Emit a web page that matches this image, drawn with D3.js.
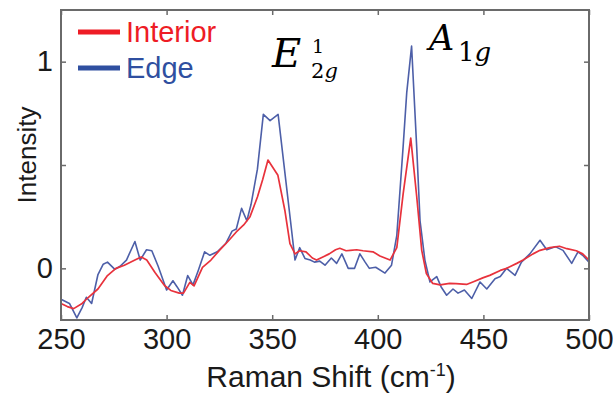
<!DOCTYPE html>
<html>
<head>
<meta charset="utf-8">
<script src="https://cdn.jsdelivr.net/npm/d3@7"></script>
<style>
  body { margin: 0; background: #fff; }
  text { font-family: "Liberation Sans", Arial, sans-serif; }
</style>
</head>
<body>
<script>
// Data
const shiftEdge = [250, 254, 257.5, 260, 262, 264.5, 267.5, 270, 272, 275.5, 278, 281, 285, 287.5, 290.5, 293, 296, 300, 303, 305, 307.5, 310, 312.5, 315, 318, 320.5, 324, 328, 331, 333, 335.5, 338, 340, 343, 345.8, 349, 352.8, 356.5, 359, 360.8, 363, 365.5, 368, 370, 372.5, 375, 378, 380.5, 383, 386, 389, 391.5, 394, 396, 399, 403.4, 406.5, 409, 412, 413.7, 416, 418.4, 420, 422.3, 424.7, 427.9, 430, 432.6, 435.6, 438, 441, 444.5, 448.4, 451.6, 455.5, 458, 461, 465, 468, 472, 476.8, 480, 484, 487.7, 491.8, 494.8, 497, 500];
const edge = [-0.15, -0.17, -0.24, -0.19, -0.14, -0.17, -0.03, 0.02, 0.03, -0.005, 0.01, 0.04, 0.13, 0.04, 0.09, 0.085, 0.01, -0.105, -0.06, -0.09, -0.13, -0.035, -0.08, -0.01, 0.08, 0.063, 0.08, 0.12, 0.18, 0.19, 0.29, 0.23, 0.31, 0.48, 0.745, 0.715, 0.745, 0.42, 0.2, 0.04, 0.1, 0.048, 0.04, 0.03, 0.035, 0.015, 0.05, 0.024, 0.07, 0.0, 0.0, 0.07, 0.03, 0.0, 0.005, -0.023, 0.015, 0.16, 0.59, 0.85, 1.075, 0.59, 0.23, 0.04, -0.066, -0.04, -0.09, -0.13, -0.1, -0.12, -0.105, -0.146, -0.066, -0.1, -0.05, -0.04, 0.0, -0.034, 0.03, 0.07, 0.136, 0.09, 0.105, 0.087, 0.024, 0.08, 0.063, 0.03];

const shiftInterior = [250, 253, 256, 260, 263, 267.5, 272, 276, 280, 285, 288, 290.6, 294.5, 299, 302, 306, 308, 311, 313, 317, 321, 325, 329, 333, 336.5, 339.5, 343, 345.5, 348, 352.7, 356, 358.4, 360.8, 363, 366, 369, 371, 374, 377, 380, 382, 385, 387, 390, 393, 397.7, 401, 405.8, 409, 412, 415.6, 418.4, 420.8, 423, 426, 429.5, 434, 437, 442, 445, 450, 453, 458, 461, 465.8, 468.8, 473.5, 476.8, 481.5, 486, 489.5, 494, 497, 500];
const interior = [-0.17, -0.185, -0.195, -0.17, -0.14, -0.1, -0.035, 0.0, 0.015, 0.04, 0.055, 0.04, -0.02, -0.083, -0.107, -0.12, -0.12, -0.068, -0.085, 0.005, 0.04, 0.087, 0.13, 0.176, 0.21, 0.25, 0.345, 0.43, 0.524, 0.45, 0.28, 0.12, 0.07, 0.085, 0.08, 0.05, 0.04, 0.055, 0.07, 0.09, 0.097, 0.085, 0.087, 0.09, 0.085, 0.08, 0.06, 0.04, 0.1, 0.36, 0.63, 0.35, 0.087, -0.025, -0.073, -0.08, -0.073, -0.074, -0.078, -0.066, -0.045, -0.034, -0.01, 0.0, 0.024, 0.04, 0.07, 0.087, 0.1, 0.107, 0.095, 0.085, 0.07, 0.04];

const xTicks = [250, 300, 350, 400, 450, 500];
const yTicks = [0, 0.5, 1];
const yTickLabels = ["0", "", "1"];

// set up svg container dimensions
const W = 613, H = 396;
const margin = { top: 10, right: 24, bottom: 76, left: 61 };
const width = W - margin.left - margin.right;
const height = H - margin.top - margin.bottom;

const svg = d3.select("body").append("svg")
  .attr("width", W).attr("height", H);

const g = svg.append("g")
  .attr("transform", "translate(" + margin.left + "," + margin.top + ")");

const x = d3.scaleLinear().domain([250, 500]).range([0, width]);
const y = d3.scaleLinear().domain([-0.25, 1.25]).range([height, 0]);

const frameColor = "#6a6a6a";

// axes with inward ticks
const xAxis = g.append("g")
  .attr("transform", "translate(0," + height + ")")
  .call(d3.axisBottom(x).tickValues(xTicks).tickSize(-5).tickPadding(8).tickFormat(d3.format("d")));
const xTop = g.append("g")
  .call(d3.axisTop(x).tickValues(xTicks).tickSize(-5).tickFormat(""));
const yAxis = g.append("g")
  .call(d3.axisLeft(y).tickValues(yTicks).tickSize(-5).tickPadding(8).tickFormat((d, i) => yTickLabels[i]));
const yRight = g.append("g")
  .attr("transform", "translate(" + width + ",0)")
  .call(d3.axisRight(y).tickValues(yTicks).tickSize(-5).tickFormat(""));

[xAxis, xTop, yAxis, yRight].forEach(a => {
  a.select(".domain").remove();
  a.selectAll("line").attr("stroke", frameColor).attr("stroke-width", 1.5);
  a.selectAll("text").attr("fill", "#1a1a1a").style("font-size", "29px")
    .style("font-family", "'Liberation Sans', Arial, sans-serif");
});
xAxis.selectAll("text").attr("dy", "0.71em");

// lines
const line = d3.line().x(d => x(d[0])).y(d => y(d[1]));
g.append("path")
  .datum(shiftEdge.map((s, i) => [s, edge[i]]))
  .attr("fill", "none").attr("stroke", "#4d5fa8").attr("stroke-width", 1.6)
  .attr("stroke-linejoin", "round").attr("d", line);
g.append("path")
  .datum(shiftInterior.map((s, i) => [s, interior[i]]))
  .attr("fill", "none").attr("stroke", "#e8323c").attr("stroke-width", 1.7)
  .attr("stroke-linejoin", "round").attr("d", line);

// frame
g.append("rect")
  .attr("width", width).attr("height", height)
  .attr("fill", "none").attr("stroke", frameColor).attr("stroke-width", 2);

// legend
const legend = [
  { name: "Interior", color: "#ee1c25", y: 32 },
  { name: "Edge", color: "#2f4fa0", y: 68 }
];
legend.forEach(l => {
  svg.append("line")
    .attr("x1", 78).attr("x2", 120).attr("y1", l.y).attr("y2", l.y)
    .attr("stroke", l.color).attr("stroke-width", 5);
  svg.append("text")
    .attr("x", 126).attr("y", l.y + 10)
    .attr("fill", l.color).style("font-size", "29px")
    .text(l.name);
});

// peak labels
const mathFont = "'DejaVu Serif', serif";
function mathText(xp, yp, size, italic, txt) {
  return svg.append("text").attr("x", xp).attr("y", yp)
    .style("font-family", mathFont).style("font-size", size + "px")
    .style("font-style", italic ? "italic" : "normal")
    .attr("fill", "#000").text(txt);
}
mathText(272, 67, 40, true, "E");
mathText(312, 53, 19, false, "1");
const sub = mathText(311, 78, 21, false, "2");
sub.append("tspan").style("font-style", "italic").text("g");

mathText(429, 50, 35, true, "A");
const sub2 = mathText(458, 61, 26, false, "1");
sub2.append("tspan").style("font-style", "italic").text("g");

// axis titles
const xTitle = svg.append("text")
  .attr("x", 331).attr("y", 387)
  .attr("text-anchor", "middle").attr("fill", "#1a1a1a")
  .style("font-size", "30px");
xTitle.append("tspan").text("Raman Shift (cm");
xTitle.append("tspan").attr("dy", -11).style("font-size", "18px").text("-1");
xTitle.append("tspan").attr("dy", 11).text(")");

svg.append("text")
  .attr("transform", "translate(36,155) rotate(-90)")
  .attr("text-anchor", "middle").attr("fill", "#1a1a1a")
  .style("font-size", "26px")
  .text("Intensity");
</script>
</body>
</html>
